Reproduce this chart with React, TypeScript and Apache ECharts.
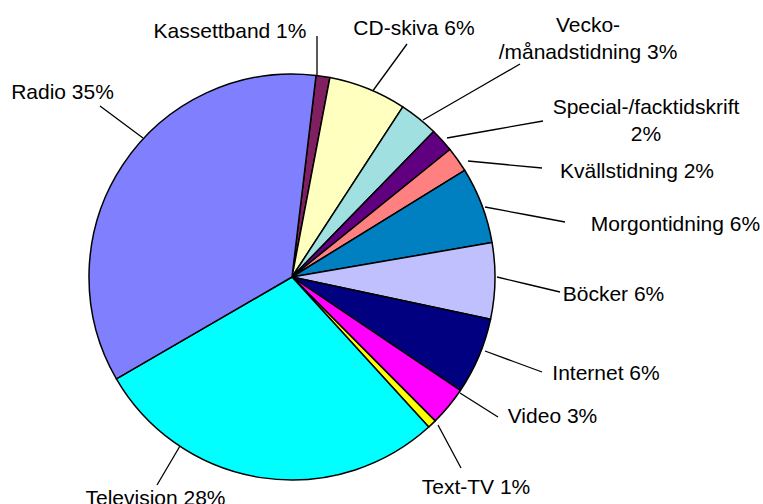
import React, { useEffect, useRef } from 'react';
import * as echarts from 'echarts';

const categories = [
  'Kassettband',
  'CD-skiva',
  'Vecko-/månadstidning',
  'Special-/facktidskrift',
  'Kvällstidning',
  'Morgontidning',
  'Böcker',
  'Internet',
  'Video',
  'Text-TV',
  'Television',
  'Radio',
];
const shares = [1.1, 6.2, 3.1, 1.9, 2.0, 6.1, 6.05, 6.1, 3.1, 0.7, 28.4, 35.25];
const colors = [
  '#802060', '#FFFFC0', '#A0E0E0', '#600080', '#FF8080', '#0080C0',
  '#C0C0FF', '#000080', '#FF00FF', '#FFFF00', '#00FFFF', '#8080FF',
];
// how each label is broken into lines
const labelNames = [
  'Kassettband ',
  'CD-skiva ',
  'Vecko-\n/månadstidning ',
  'Special-/facktidskrift\n',
  'Kvällstidning ',
  'Morgontidning ',
  'Böcker ',
  'Internet ',
  'Video ',
  'Text-TV ',
  'Television ',
  'Radio ',
];
// label centre positions (layout)
const labelCenters = [
  [230, 30], [414, 27.5], [588, 37.5], [646, 120], [637, 170.5], [675.5, 223],
  [613.5, 293], [606, 372], [552.5, 415], [476, 486], [155.5, 497.5], [62.5, 91],
];
// leader line layout: [labelEndX, labelEndY, sliceEndX, sliceEndY]
const leaderLines = [
  [317, 36, 317, 76], [407, 44, 372, 92], [520, 64, 423, 120], [543, 121, 447, 138],
  [542, 168, 468, 161], [565, 222, 485, 207], [560, 292, 497, 277], [542, 372, 485, 351],
  [498, 417, 460, 393], [461, 468, 438, 425], [157, 485, 180, 446], [100, 106, 143, 138],
];

export default function App() {
  const ref = useRef<HTMLDivElement>(null);
  useEffect(() => {
    if (!ref.current) return;
    const chart = echarts.init(ref.current, null, { renderer: 'svg' });
    chart.setOption({
      animation: false,
      backgroundColor: '#ffffff',
      series: [
        {
          type: 'pie',
          center: [292, 277],
          radius: 203,
          startAngle: 83.2,
          clockwise: true,
          avoidLabelOverlap: false,
          percentPrecision: 2,
          silent: true,
          data: categories.map((name, i) => ({
            name,
            value: shares[i],
            itemStyle: { color: colors[i] },
          })),
          itemStyle: { borderColor: '#000000', borderWidth: 1.5 },
          label: {
            show: true,
            position: 'outside',
            color: '#000000',
            fontFamily: '"Liberation Sans", Arial, sans-serif',
            fontSize: 21,
            lineHeight: 27,
            formatter: (p: any) => labelNames[p.dataIndex] + Math.round(p.percent) + '%',
          },
          labelLine: {
            show: true,
            length: 10,
            length2: 0,
            smooth: false,
            lineStyle: { color: '#000000', width: 1.3 },
          },
          labelLayout: (p: any) => {
            const l = leaderLines[p.dataIndex];
            return {
              x: labelCenters[p.dataIndex][0],
              y: labelCenters[p.dataIndex][1],
              align: 'center',
              verticalAlign: 'middle',
              labelLinePoints: [
                [l[2], l[3]],
                [(l[0] + l[2]) / 2, (l[1] + l[3]) / 2],
                [l[0], l[1]],
              ],
            };
          },
          emphasis: { disabled: true },
        },
      ],
    });
    return () => chart.dispose();
  }, []);
  return (
    <div
      ref={ref}
      style={{ position: 'fixed', left: 0, top: 0, width: 763, height: 504 }}
    />
  );
}
